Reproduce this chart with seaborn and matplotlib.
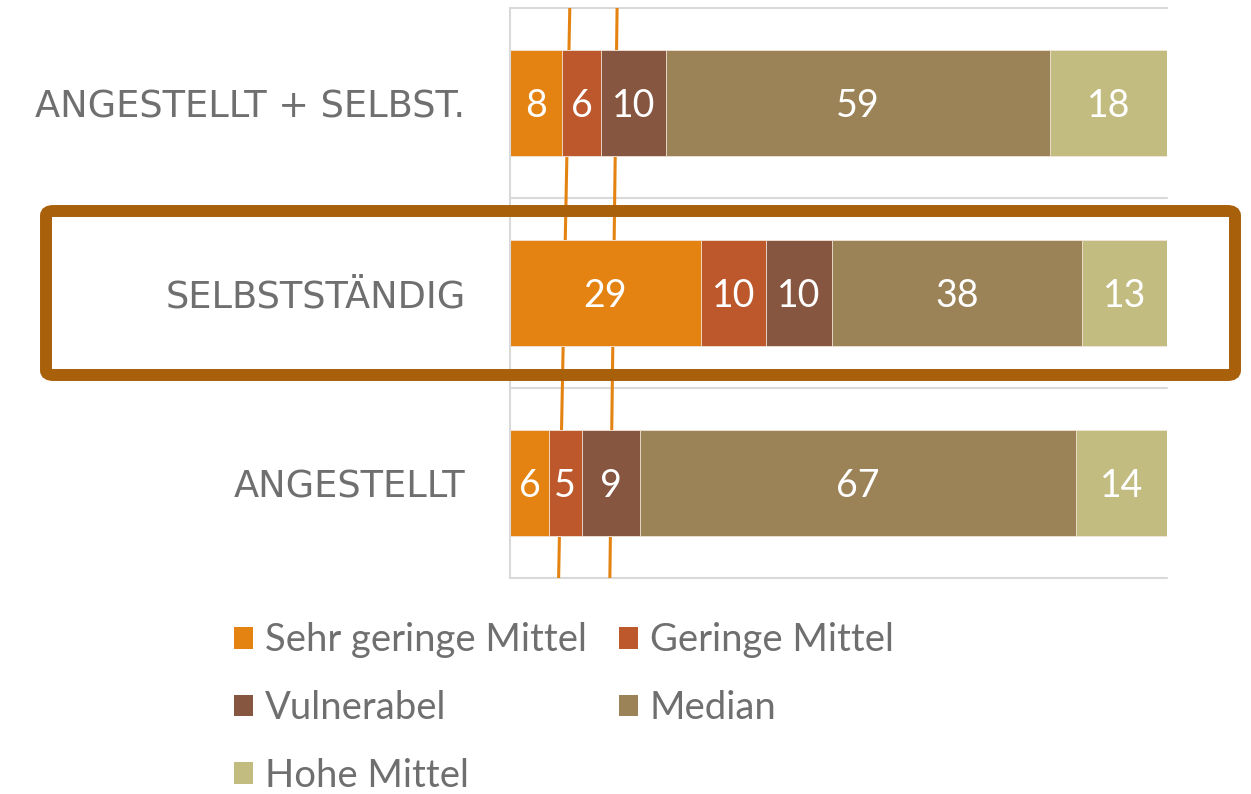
import numpy as np
import pandas as pd
import matplotlib.pyplot as plt
import seaborn as sns
from matplotlib.patches import FancyBboxPatch
from matplotlib.patches import Patch

# data
categories = ['ANGESTELLT + SELBST.', 'SELBSTSTÄNDIG', 'ANGESTELLT']
series = ['Sehr geringe Mittel', 'Geringe Mittel', 'Vulnerabel', 'Median', 'Hohe Mittel']
sehr_gering = [8, 29, 6]
gering = [6, 10, 5]
vulnerabel = [10, 10, 9]
median = [59, 38, 67]
hohe = [18, 13, 14]
colors = ['#E48312', '#BD582C', '#865640', '#9B8357', '#C2BC80']

# the two hand drawn orange marker lines (x at top, x at bottom)
marker_top = [9.1, 16.3]
marker_bottom = [7.4, 15.2]

df = pd.DataFrame({'cat': categories, series[0]: sehr_gering, series[1]: gering,
                   series[2]: vulnerabel, series[3]: median, series[4]: hohe})
vals = df[series].astype(float)
pct = vals.div(vals.sum(axis=1), axis=0) * 100   # 100% stacked
cum = pct.cumsum(axis=1)

sns.set_theme(style='white')
plt.rcParams['font.family'] = ['Lato', 'DejaVu Sans']
txt_grey = '#6F6F6F'

fig = plt.figure(figsize=(12.51, 7.94), dpi=100)
ax = fig.add_axes([510/1251, 1-578/794, 657/1251, 570/794])

# marker lines behind the bars
for xt, xb in zip(marker_top, marker_bottom):
    ax.plot([xt, xb], [-0.5, 2.5], color='#E48312', lw=2.2, zorder=1)

# stacked bars: draw the cumulative totals from the last series to the first
for i in range(len(series) - 1, -1, -1):
    sns.barplot(x=cum[series[i]], y=df['cat'], orient='h', color=colors[i],
                width=0.56, saturation=1, edgecolor='#F2E6DA', linewidth=0.6,
                ax=ax, zorder=2)

for r in range(len(categories)):
    for i, s in enumerate(series):
        mid = cum[s].iloc[r] - pct[s].iloc[r] / 2
        ax.text(mid, r + 0.015, f'{int(vals[s].iloc[r])}', ha='center', va='center',
                color='white', fontsize=27, zorder=5)

ax.set_xlim(0, 100)
ax.set_ylim(2.5, -0.5)
ax.set_xlabel('')
ax.set_ylabel('')
ax.set_xticks([])
for y in [-0.5, 0.5, 1.5, 2.5]:
    ax.axhline(y, color='#D9D9D9', lw=1.5, zorder=0, clip_on=False)
for sp in ['top', 'right', 'bottom']:
    ax.spines[sp].set_visible(False)
ax.spines['left'].set_color('#D9D9D9')
ax.spines['left'].set_linewidth(1.5)
ax.tick_params(axis='y', length=0, pad=32, labelcolor=txt_grey)
for lab in ax.get_yticklabels():
    lab.set_fontfamily(['DejaVu Sans'])
    lab.set_fontsize(26.5)

# highlight box around SELBSTSTÄNDIG
box = FancyBboxPatch((46/1251, 1-375/794), (1235-46)/1251, (375-211)/794,
                     boxstyle='round,pad=0,rounding_size=0.006',
                     transform=fig.transFigure, fill=False,
                     edgecolor='#A8600A', lw=8.6, zorder=10)
fig.patches.append(box)

# legend (column-major order to get the row layout)
handles = [Patch(facecolor=c, edgecolor='none') for c in colors]
order = [0, 2, 4, 1, 3]
fig.legend([handles[k] for k in order], [series[k] for k in order],
           loc='upper left', bbox_to_anchor=(219/1251, 1-607/794), ncol=2,
           frameon=False, fontsize=27.5, labelcolor=txt_grey,
           handlelength=0.5, handleheight=0.5, handletextpad=0.3,
           columnspacing=0.85, labelspacing=0.83, borderaxespad=0)

fig.savefig('out.png', dpi=100)
